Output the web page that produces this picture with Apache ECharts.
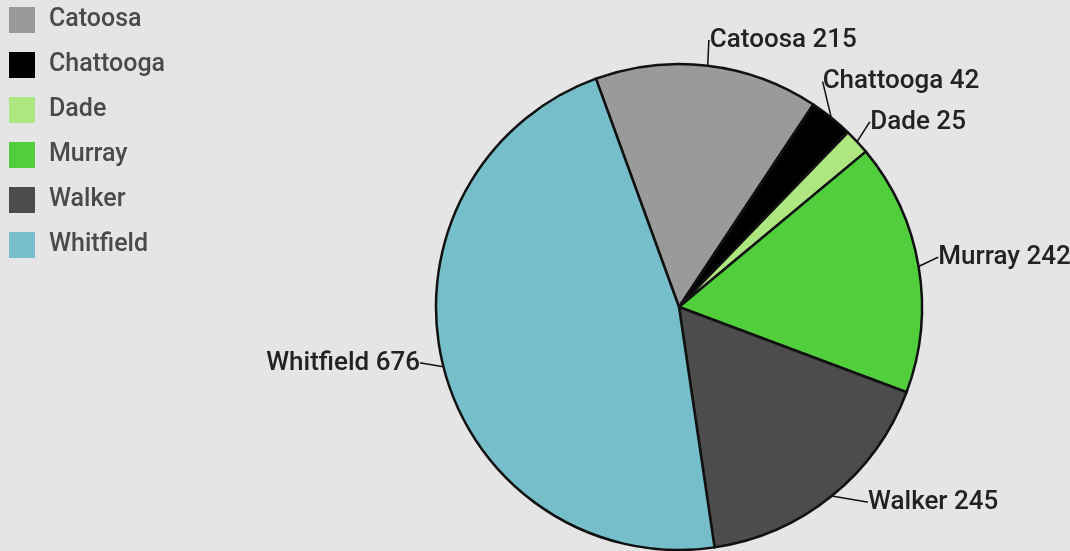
<!DOCTYPE html>
<html>
<head>
<meta charset="utf-8">
<script src="https://cdn.jsdelivr.net/npm/echarts@6/dist/echarts.min.js"></script>
<style>
  html, body { margin: 0; padding: 0; background: #e5e5e5; }
  #chart { width: 1070px; height: 551px; }
</style>
</head>
<body>
<div id="chart"></div>
<script>
// County totals
const counties = ['Catoosa', 'Chattooga', 'Dade', 'Murray', 'Walker', 'Whitfield'];
const totals = [215, 42, 25, 242, 245, 676];
const sliceColors = ['#9a9a9a', '#000000', '#aee67f', '#50ce3c', '#4c4c4c', '#76bfca'];

// offsets for the outside labels, relative to their default spot (pixels)
const labelNudge = {
  Catoosa: [-2, -7],
  Chattooga: [-21, -22],
  Dade: [-3, -9],
  Murray: [1, -6],
  Walker: [23, -8],
  Whitfield: [-4, -8]
};

const chart = echarts.init(document.getElementById('chart'), null, { renderer: 'canvas' });

const pieData = counties.map((name, i) => ({
  name: name,
  value: totals[i],
  itemStyle: { color: sliceColors[i] }
}));

chart.setOption({
  backgroundColor: '#e5e5e5',
  animation: false,
  legend: {
    orient: 'vertical',
    left: 4,
    top: 2,
    itemWidth: 26,
    itemHeight: 26,
    itemGap: 19,
    icon: 'rect',
    itemStyle: { borderWidth: 0 },
    textStyle: {
      fontFamily: 'Roboto',
      fontSize: 25,
      fontWeight: 500,
      lineHeight: 26,
      color: '#4a4a4a',
      padding: [0, 0, 0, 9]
    },
    data: counties
  },
  series: [{
    type: 'pie',
    center: [679, 307],
    radius: 243,
    startAngle: 110,
    clockwise: true,
    avoidLabelOverlap: true,
    data: pieData,
    itemStyle: { borderColor: '#111', borderWidth: 2.5 },
    label: {
      show: true,
      formatter: '{b} {c}',
      overflow: 'none',
      distanceToLabelLine: 1,
      fontFamily: 'Roboto',
      fontSize: 26,
      fontWeight: 500,
      color: '#222',
      lineHeight: 26
    },
    labelLine: {
      show: true,
      length: 18,
      length2: 1,
      lineStyle: { color: '#111', width: 1.5 }
    },
    // move each label by its nudge; giving x/y makes the leader line re-route to it
    labelLayout: function (params) {
      const n = labelNudge[counties[params.dataIndex]] || [0, 0];
      const r = params.labelRect;
      let ax = r.x;
      if (params.align === 'right') ax = r.x + r.width;
      else if (params.align === 'center') ax = r.x + r.width / 2;
      let ay = r.y + r.height / 2;
      if (params.verticalAlign === 'top') ay = r.y;
      else if (params.verticalAlign === 'bottom') ay = r.y + r.height;
      return { x: ax + n[0], y: ay + n[1] };
    },
    emphasis: { disabled: true }
  }]
});
</script>
</body>
</html>
